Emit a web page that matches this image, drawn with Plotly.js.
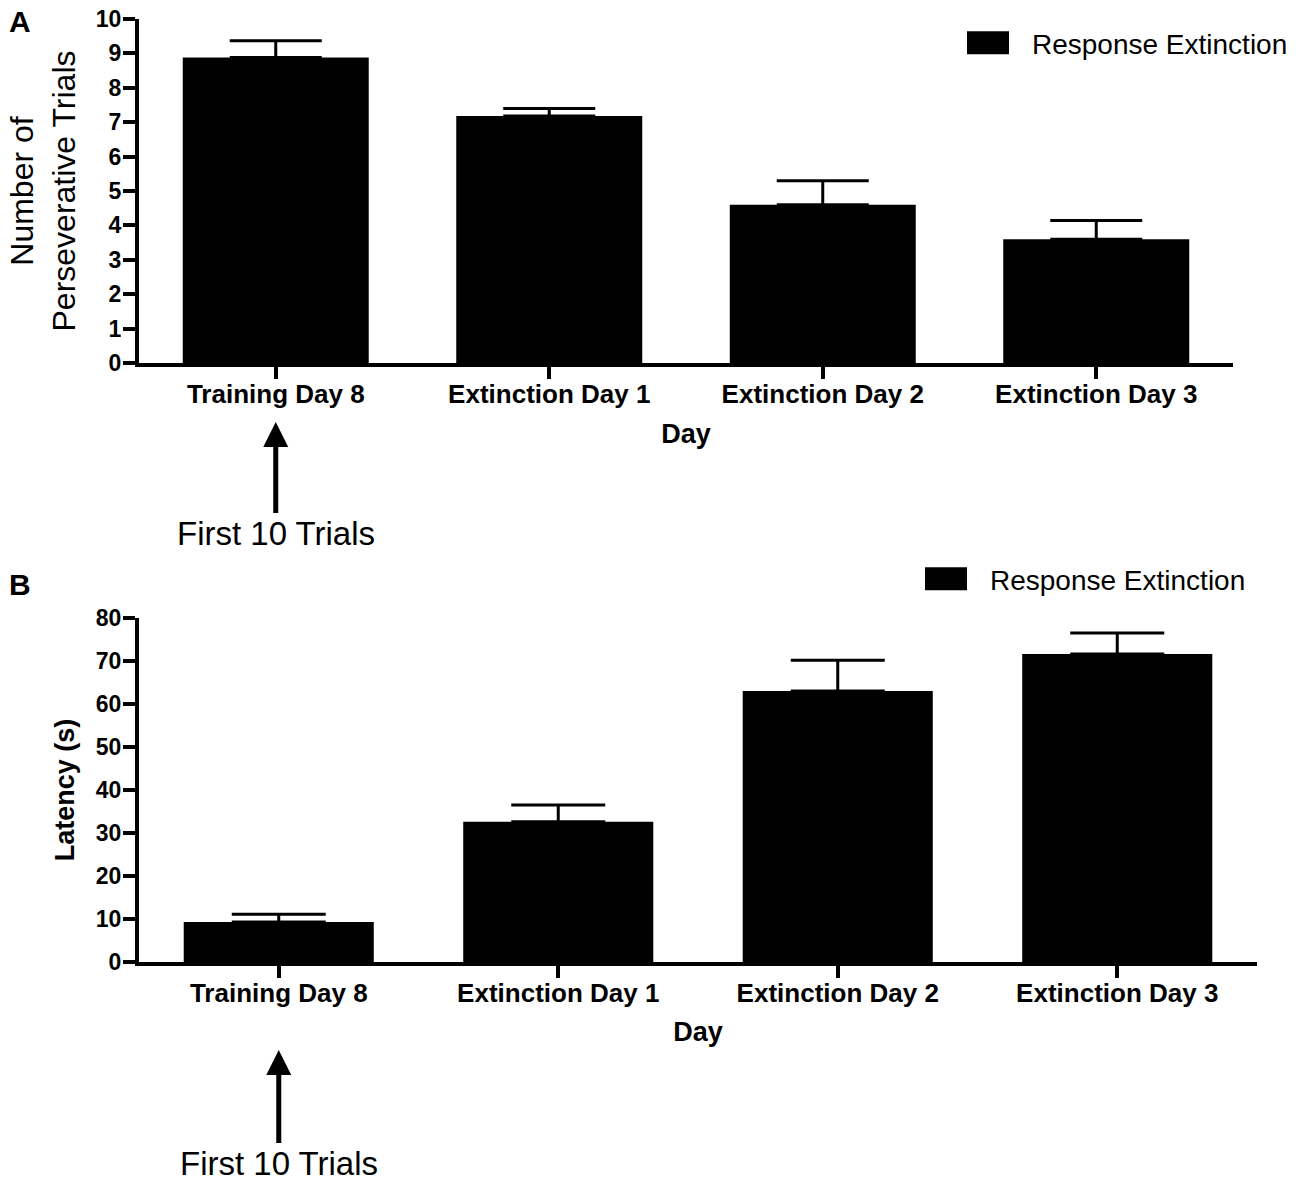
<!DOCTYPE html>
<html>
<head>
<meta charset="utf-8">
<script src="https://cdn.plot.ly/plotly-3.0.1.min.js"></script>
<style>
  body { margin: 0; background: #fff; }
  #myDiv { width: 1300px; height: 1185px; }
</style>
</head>
<body>
<div id="myDiv"></div>
<script>
// categories shared by both panels
var days = ['Training Day 8', 'Extinction Day 1', 'Extinction Day 2', 'Extinction Day 3'];

// panel A: number of perseverative trials (mean, upper SEM)
var trialsMean = [8.88, 7.18, 4.6, 3.6];
var trialsSem = [0.49, 0.22, 0.70, 0.54];

// panel B: latency in seconds (mean, upper SEM)
var latencyMean = [9.3, 32.6, 63.0, 71.6];
var latencySem = [1.8, 3.9, 7.2, 4.9];

var seriesName = 'Response Extinction';
var arrowText = 'First 10 Trials';

var FONT = 'Liberation Sans, Arial, sans-serif';
var W = 1300, H = 1185;
// pixel -> paper helpers
function px(x) { return x / W; }
function py(y) { return 1 - y / H; }

function zeros(n) { return new Array(n).fill(0); }

var traceA = {
    x: days,
    y: trialsMean,
    type: 'bar',
    name: seriesName,
    width: 0.68,
    marker: { color: '#000', line: { width: 0 } },
    error_y: {
        type: 'data', symmetric: false,
        array: trialsSem, arrayminus: zeros(trialsSem.length),
        color: '#000', thickness: 3, width: 46
    },
    xaxis: 'x', yaxis: 'y',
    legend: 'legend'
};

var traceB = {
    x: days,
    y: latencyMean,
    type: 'bar',
    name: seriesName,
    width: 0.68,
    marker: { color: '#000', line: { width: 0 } },
    error_y: {
        type: 'data', symmetric: false,
        array: latencySem, arrayminus: zeros(latencySem.length),
        color: '#000', thickness: 3, width: 47
    },
    xaxis: 'x2', yaxis: 'y2',
    legend: 'legend2'
};

var data = [traceA, traceB];

var xBase = {
    type: 'category',
    range: [-0.5, 3.5],
    showline: true, linecolor: '#000', linewidth: 4,
    ticks: 'outside', ticklen: 12, tickwidth: 4, tickcolor: '#000',
    ticklabelstandoff: -7,
    showgrid: false, zeroline: false,
    tickfont: { family: FONT, size: 26, color: '#000', weight: 'bold' },
    fixedrange: true
};

var yBase = {
    showline: true, linecolor: '#000', linewidth: 4,
    ticks: 'outside', ticklen: 12, tickwidth: 4, tickcolor: '#000',
    ticklabelstandoff: -3,
    showgrid: false, zeroline: false,
    tickfont: { family: FONT, size: 23, color: '#000', weight: 'bold' },
    fixedrange: true
};

var legendBase = {
    xanchor: 'left', yanchor: 'middle',
    itemwidth: 70,
    bgcolor: 'rgba(0,0,0,0)',
    font: { family: FONT, size: 28, color: '#000' }
};

var layout = {
    width: W, height: H,
    autosize: false,
    showlegend: true,
    margin: { l: 0, r: 0, t: 0, b: 0 },
    paper_bgcolor: '#fff',
    plot_bgcolor: 'rgba(0,0,0,0)',
    xaxis: Object.assign({}, xBase, {
        domain: [px(139), px(1233)],
        anchor: 'y',
        title: { text: 'Day', font: { family: FONT, size: 27, color: '#000', weight: 'bold' }, standoff: 17 }
    }),
    yaxis: Object.assign({}, yBase, {
        domain: [py(363), py(19)],
        anchor: 'x',
        range: [0, 10], dtick: 1,
        title: { text: 'Number of<br>Perseverative Trials', font: { family: FONT, size: 32, color: '#000' }, standoff: 12 }
    }),
    xaxis2: Object.assign({}, xBase, {
        domain: [px(139), px(1257)],
        anchor: 'y2',
        title: { text: 'Day', font: { family: FONT, size: 27, color: '#000', weight: 'bold' }, standoff: 16 }
    }),
    yaxis2: Object.assign({}, yBase, {
        domain: [py(962), py(618)],
        anchor: 'x2',
        range: [0, 80], dtick: 10,
        title: { text: 'Latency (s)', font: { family: FONT, size: 27, color: '#000', weight: 'bold' }, standoff: 14 }
    }),
    legend: Object.assign({}, legendBase, { x: px(952), y: py(43) }),
    legend2: Object.assign({}, legendBase, { x: px(910), y: py(579) }),
    annotations: [
        {
            xref: 'paper', yref: 'paper', x: px(7), y: py(22),
            xanchor: 'left', yanchor: 'middle', showarrow: false,
            text: 'A', font: { family: FONT, size: 30, color: '#000', weight: 'bold' }
        },
        {
            xref: 'paper', yref: 'paper', x: px(7), y: py(584),
            xanchor: 'left', yanchor: 'middle', showarrow: false,
            text: 'B', font: { family: FONT, size: 30, color: '#000', weight: 'bold' }
        },
        {
            xref: 'x', yref: 'paper', x: 0, y: py(422),
            text: arrowText, showarrow: true,
            ax: 0, ay: 111, arrowhead: 2, arrowsize: 1, arrowwidth: 5, arrowcolor: '#000',
            font: { family: FONT, size: 33, color: '#000' }
        },
        {
            xref: 'x2', yref: 'paper', x: 0, y: py(1050),
            text: arrowText, showarrow: true,
            ax: 0, ay: 113, arrowhead: 2, arrowsize: 1, arrowwidth: 5, arrowcolor: '#000',
            font: { family: FONT, size: 33, color: '#000' }
        }
    ]
};

Plotly.newPlot('myDiv', data, layout, { staticPlot: true, displayModeBar: false }).then(function(gd) {
    // make the legend keys the wide black blocks of the original
    gd.querySelectorAll('.legendpoints path').forEach(function(p) {
        p.setAttribute('d', 'M-25,-11.5H17V11.5H-25Z');
    });
});
</script>
</body>
</html>
